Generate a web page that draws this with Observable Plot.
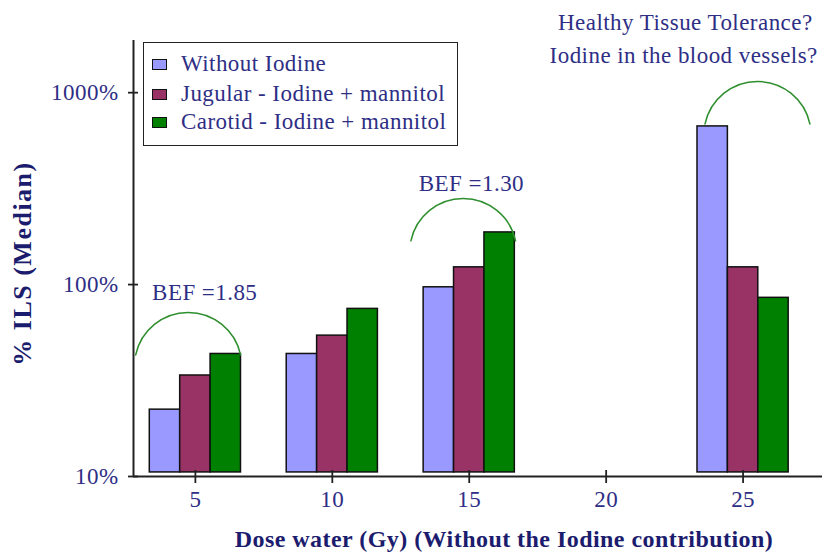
<!DOCTYPE html>
<html><head><meta charset="utf-8">
<script src="https://cdn.jsdelivr.net/npm/d3@7"></script>
<script src="https://cdn.jsdelivr.net/npm/@observablehq/plot@0.6"></script>
<style>
body{margin:0;background:#fff;}
#wrap{position:relative;width:822px;height:554px;font-family:"Liberation Serif",serif;}
#wrap svg text{letter-spacing:0.45px;}
.legend{position:absolute;left:143px;top:42px;width:313px;height:102px;border:1.6px solid #222;background:#fff;}
.item{position:absolute;left:8px;height:24px;display:flex;align-items:center;font-size:23px;letter-spacing:0.45px;color:#2e2e85;white-space:nowrap;}
.sw{width:13px;height:9px;border:1.3px solid #111;margin-right:14px;flex:none;}
</style></head>
<body><div id="wrap"></div>
<script>
// ---- data ----
const doses = [5, 10, 15, 25];
const seriesNames = ["Without Iodine", "Jugular - Iodine + mannitol", "Carotid - Iodine + mannitol"];
const withoutIodine = [22.3, 43.5, 96.8, 667];
const jugular = [33.6, 54.2, 123, 123];
const carotid = [43.5, 74.7, 187, 85.3];
const colors = ["#9999ff", "#993366", "#008000"];
const xTicks = [5, 10, 15, 20, 25];
const yTicks = [10, 100, 1000];
const xLabel = "Dose water (Gy) (Without the Iodine contribution)";
const yLabel = "% ILS (Median)";
const arcs = [
  {x1: 2.82, x2: 6.65, y1: 43, y2: 43},
  {x1: 12.87, x2: 16.69, y1: 169, y2: 169},
  {x1: 23.61, x2: 27.44, y1: 687, y2: 687}
];
const notes = [
  {x: 5.34, y: 90.8, text: "BEF =1.85"},
  {x: 15.08, y: 334, text: "BEF =1.30"},
  {x: 22.89, y: 2323, text: "Healthy Tissue Tolerance?"},
  {x: 22.83, y: 1560, text: "Iodine in the blood vessels?"}
];
const seriesValues = [withoutIodine, jugular, carotid];

const xDomain = [2.74, 27.9];
const yDomain = [10, 1870];
const base = 10.5;
const bw = 1.11;
const textColor = "#2e2e85";
const titleColor = "#1c1c6e";

const chart = Plot.plot({
  width: 822, height: 554,
  marginLeft: 133, marginRight: 0, marginTop: 40, marginBottom: 78,
  style: {fontFamily: "Liberation Serif", fontSize: "23px", color: textColor, background: "white", overflow: "visible"},
  x: {domain: xDomain},
  y: {type: "log", domain: yDomain},
  marks: [
    ...seriesValues.map((vals, i) => Plot.rectY(doses, {
      x1: d => d + (i - 1.5) * bw,
      x2: d => d + (i - 0.5) * bw,
      y1: () => base,
      y2: (d, j) => vals[j],
      fill: colors[i], stroke: "#111", strokeWidth: 1.5
    })),
    Plot.arrow(arcs, {x1: "x1", y1: "y1", x2: "x2", y2: "y2", bend: 78, headLength: 0, stroke: "#2f8f2f", strokeWidth: 1.5}),
    Plot.ruleY([yDomain[0]], {stroke: "#222", strokeWidth: 2}),
    Plot.ruleX([xDomain[0]], {stroke: "#222", strokeWidth: 2}),
    Plot.axisX({ticks: xTicks, tickSize: 13, dy: -6, tickFormat: () => "", stroke: "#222", strokeWidth: 1.8, label: null}),
    Plot.axisX({ticks: xTicks, tickSize: 0, tickPadding: 14, fill: textColor, fontSize: 23, label: null}),
    Plot.axisY({ticks: yTicks, tickSize: 10, dx: 5, tickFormat: () => "", stroke: "#222", strokeWidth: 1.8, label: null}),
    Plot.axisY({ticks: yTicks, tickSize: 0, tickPadding: 15, tickFormat: d => d + "%", fill: textColor, fontSize: 23, label: null}),
    Plot.text(notes, {x: "x", y: "y", text: "text", fill: textColor, fontSize: 23}),
    Plot.text([xLabel], {frameAnchor: "bottom", dy: 70, dx: 26, fontWeight: "bold", fill: titleColor, fontSize: 24}),
    Plot.text([yLabel], {frameAnchor: "left", textAnchor: "middle", dx: -111, dy: 5, rotate: -90, fontWeight: "bold", fill: titleColor, fontSize: 26})
  ]
});

chart.querySelectorAll("text").forEach(t => {
  if (t.textContent === yLabel) t.style.letterSpacing = "1.5px";
});

const wrap = document.getElementById("wrap");
wrap.appendChild(chart);
const legend = document.createElement("div");
legend.className = "legend";
const rowTops = [9, 39, 67];
seriesNames.forEach((name, i) => {
  const item = document.createElement("div");
  item.className = "item";
  item.style.top = rowTops[i] + "px";
  const sw = document.createElement("span");
  sw.className = "sw";
  sw.style.background = colors[i];
  item.appendChild(sw);
  item.appendChild(document.createTextNode(name));
  legend.appendChild(item);
});
wrap.appendChild(legend);
</script>
</body></html>
